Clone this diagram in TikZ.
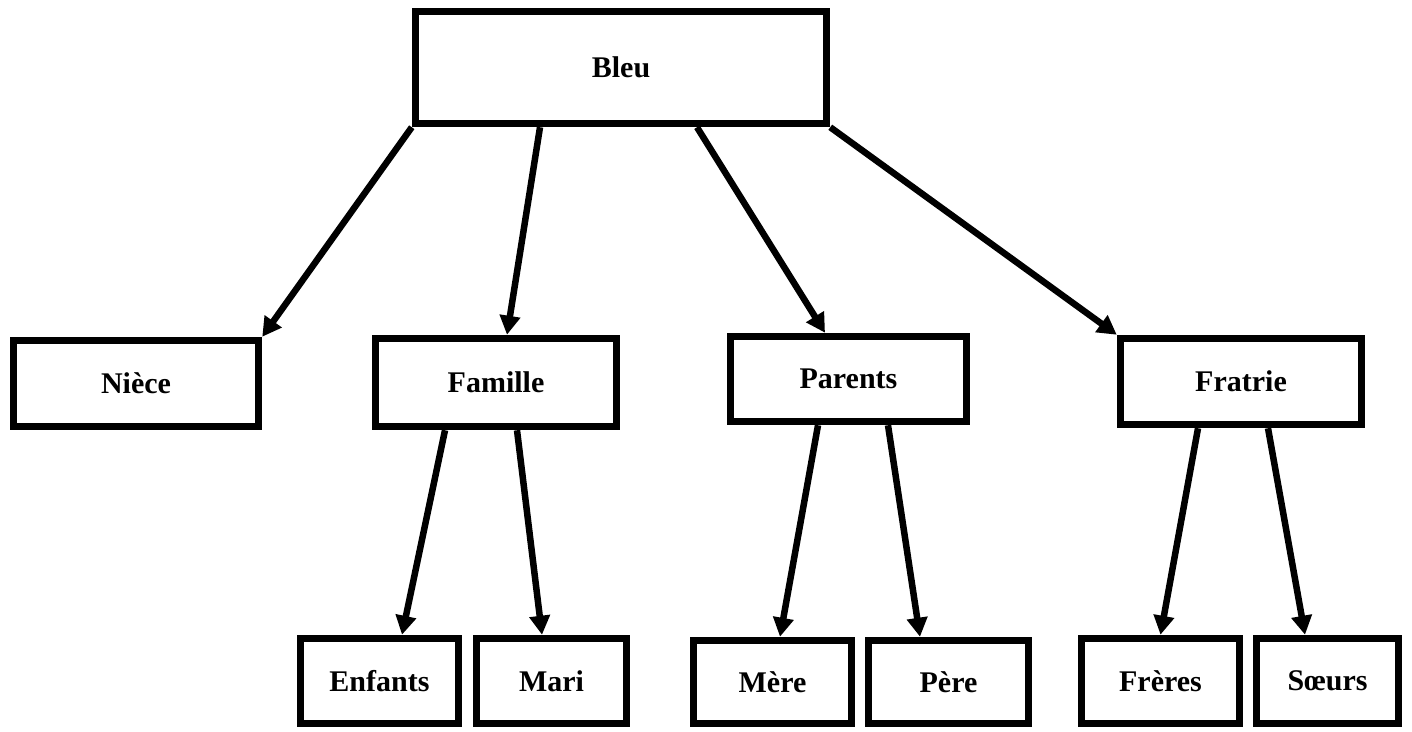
\documentclass[tikz,border=0pt]{standalone}
\usepackage{fontspec}
\setmainfont{Liberation Serif}
\usetikzlibrary{arrows.meta,calc}
\begin{document}
\begin{tikzpicture}[x=1pt,y=-1pt,
  box/.style={draw, line width=7.5pt, inner sep=0pt, text depth=0pt, font=\fontsize{30}{33}\selectfont\bfseries},
  arr/.style={line width=6.5pt, -{Triangle[length=19pt,width=20pt]}}]
\useasboundingbox[fill=white] (0,0) rectangle (1412,731);
\node[box, minimum width=411pt, minimum height=112pt] (bleu) at (621,67.5) {Bleu};
\node[box, minimum width=245pt, minimum height=86pt] (niece) at (136,383.5) {Nièce};
\node[box, minimum width=241pt, minimum height=88pt] (famille) at (496,382.5) {Famille};
\node[box, minimum width=236pt, minimum height=85pt] (parents) at (848.5,379) {Parents};
\node[box, minimum width=241pt, minimum height=86pt] (fratrie) at (1241,381.5) {Fratrie};
\node[box, minimum width=158pt, minimum height=85pt] (enfants) at (379.5,681) {Enfants};
\node[box, minimum width=150pt, minimum height=85pt] (mari) at (551.5,681) {Mari};
\node[box, minimum width=158pt, minimum height=83pt] (mere) at (772.5,682) {Mère};
\node[box, minimum width=160pt, minimum height=83pt] (pere) at (948.5,682) {Père};
\node[box, minimum width=158pt, minimum height=85pt] (freres) at (1160.5,681) {Frères};
\node[box, minimum width=142pt, minimum height=85pt] (soeurs) at (1327.5,681) {Sœurs};
\draw[arr] (bleu.south west) -- (niece.north east);
\draw[arr] ($(bleu.south)+(-81,0)$) -- ($(famille.north)+(11,0)$);
\draw[arr] ($(bleu.south)+(76,0)$) -- ($(parents.north)+(-23.5,0)$);
\draw[arr] (bleu.south east) -- (fratrie.north west);
\draw[arr] ($(famille.south)+(-51,0)$) -- ($(enfants.north)+(22.5,0)$);
\draw[arr] ($(famille.south)+(21,0)$) -- ($(mari.north)+(-9.5,0)$);
\draw[arr] ($(parents.south)+(-30.5,0)$) -- ($(mere.north)+(7.5,0)$);
\draw[arr] ($(parents.south)+(39.5,0)$) -- ($(pere.north)+(-28.5,0)$);
\draw[arr] ($(fratrie.south)+(-43,0)$) -- ($(freres.north)+(0,0)$);
\draw[arr] ($(fratrie.south)+(27,0)$) -- ($(soeurs.north)+(-22.5,0)$);
\end{tikzpicture}
\end{document}
